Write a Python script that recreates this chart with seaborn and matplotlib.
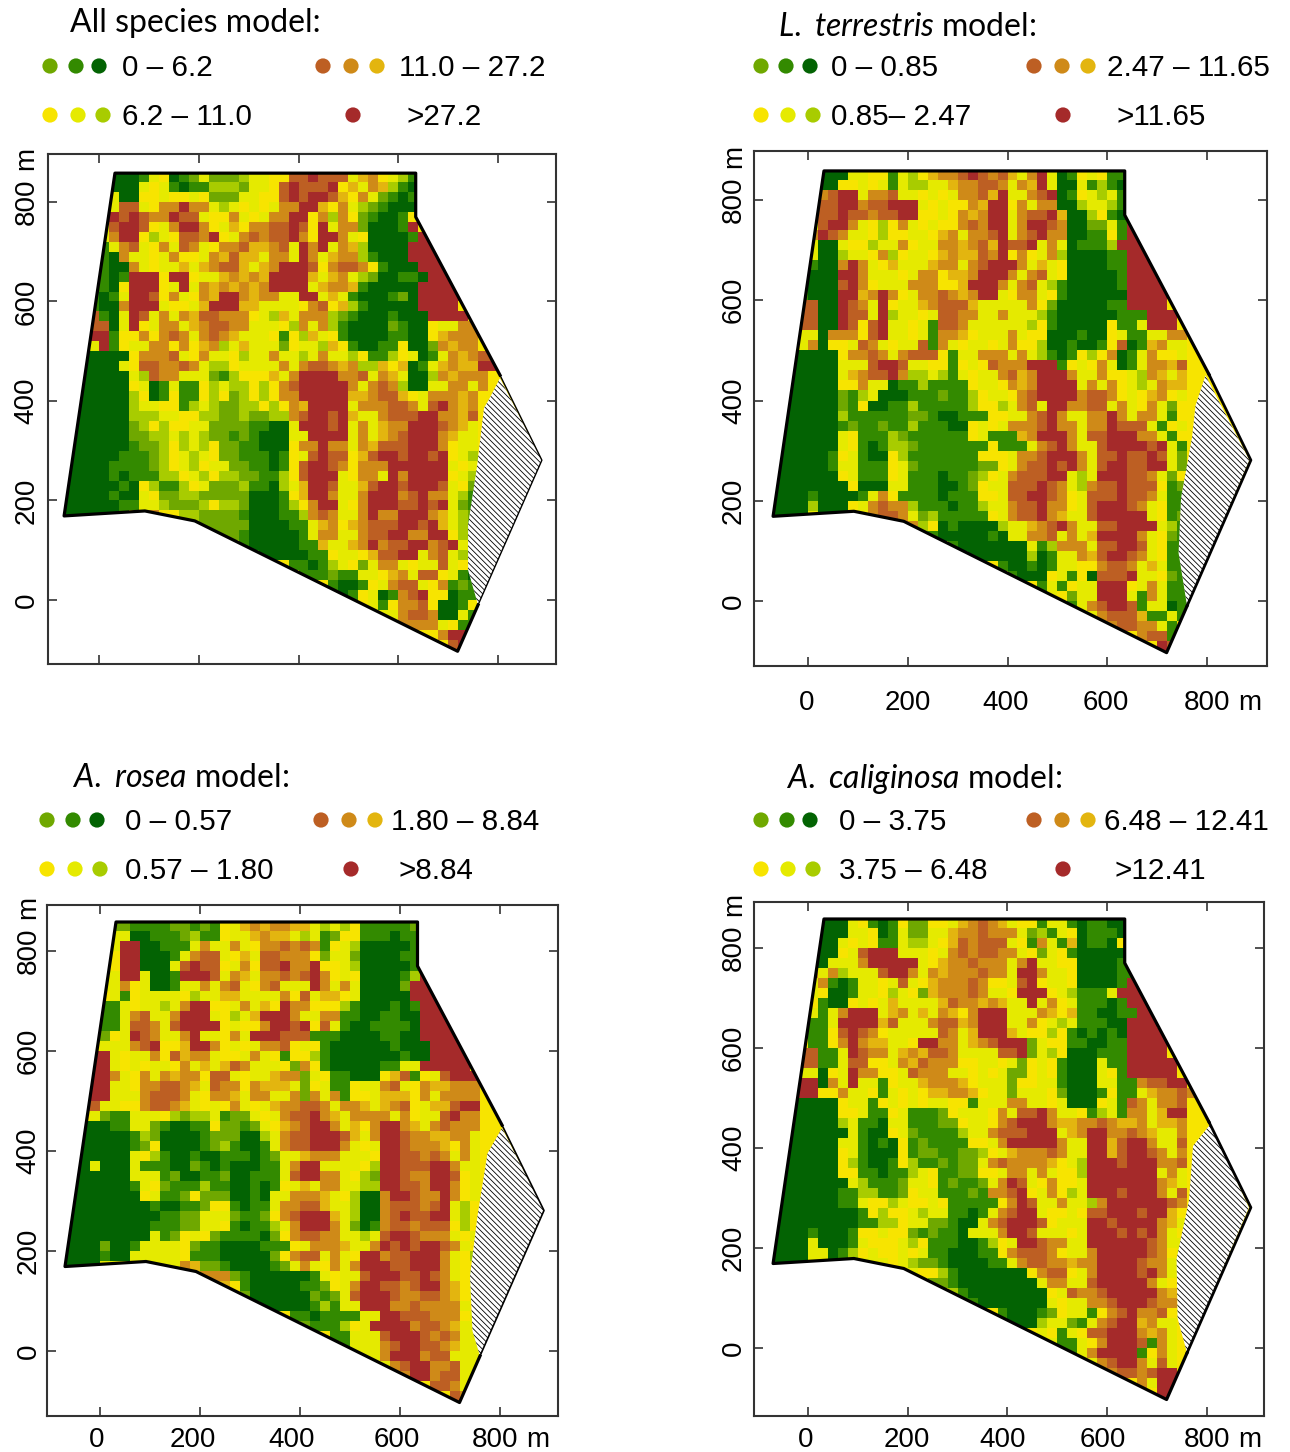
import numpy as np
import matplotlib
matplotlib.use('Agg')
import matplotlib.pyplot as plt
import seaborn as sns
from matplotlib.colors import ListedColormap
from matplotlib.patches import Polygon
from matplotlib.transforms import Affine2D, ScaledTranslation

W, H = 1290, 1452

# colour classes used in the maps
class_colors = ['#036303', '#338a00', '#6fa800', '#a8cc00', '#f7e400',
                '#e5ea00', '#e3b50f', '#cf8a18', '#bd5f23', '#a52a2a']

# values: class 0-9 per 20 m cell, rows from y=870 down, columns from x=-70
# blanks are cells outside the field
all_species = [
    "",
    "     0001540125222355448898885674531",
    "     0005451011333255489888946576310",
    "     5004454454222554489899864752101",
    "     5885477977535454577996475321000",
    "    59898779885447545779947374210014",
    "    58998457997456477889849577200019",
    "    5799435488794578788974997540000199",
    "    1578547587547786678597957630000999",
    "    10755457445768665775975677310" "009999",
    "    100754556567886567999847887410" "00999",
    "    101999499455676769999656753200" "110999",
    "   11049994595767676799995677610000099999",
    "   10159984754769976775599565100012099999",
    "   1007999544569996655554784631000009999",
    "   81059857576887774536577732100010009999",
    "   880594577567887755543757310000210045577",
    "   991447478757876555414365410000110046777",
    "   591455774746735655524553641001140027677",
    "  0000047778547554355755357553411345015767889",
    "  000054887787533455557578876733646015676699",
    "  0000053877555213444657999977857650037677" "7",
    "  00000450151143533434789999975787300557757",
    "  000003401411434234347799999667886457776" "7",
    "  000003554413532233434769999577788758976" "7",
    "  000003335544332232233789989655788899776" "8",
    " 0000002343445522221100599989575677999876" "5",
    " 0000002233535322121000559999575678999765" "5",
    " 0000001223435342211000477977576888999745" "5",
    " 0000011123453542211101458988468998998945" "3",
    " 0000111123453455221101489987477799999954" "5",
    " 0000101113345343322113489995477597999945" "3",
    " 0000010431134522231103569985568998999854" "2",
    "0000010054223322222000146997557999789775" "31",
    "0000001155322234332000134799547999889895" "21",
    "0000001457443322221000113787557977999765" "32",
    "            4322222000011567467888998" "96531",
    "            4452221000001577557889977" "99431",
    "                 3100000116556797889978953",
    "                 4410000011455468899578531",
    "                      41101354257754558541",
    "                      44111211554675884510",
    "                           100145788547121",
    "                           401450178944011",
    "                           444451477840014",
    "                                5578870051",
    "                                4477775411",
    "                                     47999",
    "                                     44899",
    "                                     44499",
]
terrestris = [
    "",
    "     0005544153467789878657950145411",
    "     0044545153355677887576950051310",
    "     7899577855454577869557890145351",
    "     8899788999545447699475770035531",
    "    588988788994454767995788960034109",
    "    5899754347545447879957998700225199",
    "    7987554344554675778957897700114199",
    "    5005443557455776786988957501113999",
    "    50035547345546766879474573000011999",
    "    10079754655567757899975654000011999",
    "    00099755545774667999757854000001999",
    "   1000897455577744699975785310000019999",
    "   1000996797457787679954775410000009999",
    "   8800987594556788865555574200000119999",
    "   88009885935545887755755531000000111999",
    "   88009848955451887555555341000004115999",
    "   550777489554517764555754400010045115577",
    "   570445875455817545545744300100148016755",
    "  0000047787578884155777575310143470157445",
    "  0000055589985544145487779991454750157768",
    "  0000056788973353154557867999755744537656",
    "  0000044755011311114554767999957574535766",
    "  0000021350001112113455478999978874546745",
    "  0000021400113111113443578599778857547524",
    "  0000031111112210011144557897557797577514",
    " 00000012112113111004545777897757798885145",
    " 00000054111321111114511167999758899977514",
    " 0000005410133211111114111578975589999895" "1",
    " 0000014510043111111144457789997588988985" "2",
    " 00000155111452111111224578898975899889952",
    " 00000045111451110112345788899535999887524",
    " 00000004000551110012455888987537889888412",
    "000010000157411110111445889987458889887511",
    "000030004578773111011355788977458999875411",
    "000050035478875231111145788976558999995412",
    "            777340100003556789755889999531",
    "            555210000010557785756999975421",
    "                 5100000005137775889985411",
    "                 4410000003015576899875411",
    "                      41001015544788756511",
    "                      44100045140888955421",
    "                           151455999457511",
    "                           454255999517511",
    "                           444157899815501",
    "                                5788861151",
    "                                4478877514",
    "                                     78815",
    "                                     44989",
    "                                     44499",
]
rosea = [
    "",
    "     2211112212145676776653534111112",
    "     5500111231145567665351244111011",
    "     5990011157557547787871453000001",
    "     4990001578854658877742552000011",
    "    549900058988457488977944530000019",
    "    5599500199985765778789745400001399",
    "    5574500155757854785559757500002999",
    "    4514555543556655557485664500000999",
    "    11545535799445756497744431000101999",
    "    11578557999543569997557711001100999",
    "    11588758999945447998948510011110999",
    "   4245987557955475999888111000011009999",
    "   45557894469974545778454100000010009999",
    "   995455748677544575414431000000010099999",
    "   99545455475656875554274100000115599999",
    "   997547576774885455677254110004681458999",
    "   995547788765877476665245114557854766777",
    "   995557888754776577557275714456664757777",
    "  8855447887654547545677887577656784566899",
    "  4521155543233512254578897657777574558977",
    "  0001155210011422125467899756479976578777",
    "  0000013200001222003578899986579987766775",
    "  0000012400001231001578899975459987776475",
    "  0000054310010011101255677755549988787575",
    " 00500051110021010001157995555439988899755",
    " 00000055512001120011158997754329987799845",
    " 00000015421113110010145657755339988799745",
    " 00000004511242220010557776543007998779745",
    " 00000000100112441011577886553007888789534",
    " 00000000011225552112478999653007898899534",
    " 00000000111225541011357999752017887888434",
    " 00000000512454211110247887755358998777545",
    "0000200155554211000011145777655798989987543",
    "000010055555411100000247885754997889997543",
    "000055545555762210000125754757999889997544",
    "            557772100000015455899988987543",
    "            555664100000112457998878997645",
    "                 4200000021258999877887645",
    "                 3410000013155999778777754",
    "                      41101111559988877745",
    "                      44211134599997887655",
    "                           115558999878755",
    "                           415557899887655",
    "                           444557999788555",
    "                                5789977855",
    "                                4479978855",
    "                                     88755",
    "                                     44875",
    "                                     44475",
]
caliginosa = [
    "",
    "     0005410142244567876544155101100",
    "     0005540152255677877752315401110",
    "     005454115335468788854175160110",
    "     0045899955545787887754254100000",
    "    505557999995467787775795544000015",
    "    7573555899757677787759975540000113",
    "    5710155458546777874458945540000199",
    "    5400155435426777875549994531115999",
    "    4100454565555687767655957451110199",
    "    51579995675657647999555764611001199",
    "    11599996855578867999557453511100999",
    "   4114898745555587569996544341010109999",
    "   4114797665549977567899925441100119999",
    "   8811598775676887555588925340001119999",
    "   88115884457687774455452454100051199999",
    "   55045977445877755454522454100054199999",
    "   990759551455677764555244551000551178899",
    "   994475541545466776455255542000141156778" "7",
    "  0000045514545455441555775545000451875778",
    "  0000044511451112455547588975541351775699",
    "  0000035110551112245547899976677876675667",
    "  0000005100452111135578889995679977876557",
    "  0000055101041211114457999997559968997558",
    "  0000045100041221122345677787559968998757",
    " 00000043100143112122578777764539998999778",
    " 00000044110113541122445775754439999999575",
    " 00000005311125541211257985474459999999765",
    " 00000011331124551112177894574359998999758",
    " 00000011544354454111114798557553799999987",
    " 00000000143445355110157899544548899989964",
    " 00000000113345522100578999845559989999765",
    " 00010001445442121105557998555459998989754",
    "000050001544453411100134599877559999998755",
    "000055013454454511000114788874557999998745",
    "000055034555453221000011578877677999987755",
    "            555443100000004788457999989754",
    "            755422100000000577558999997544",
    "                 4310000000045877899999764",
    "                 4411000000054557789998774",
    "                      41000124551478977845",
    "                      44000355215789967554",
    "                           541548899976754",
    "                           451154799981754",
    "                           444157999914754",
    "                                5789975854",
    "                                4478878994",
    "                                     75994",
    "                                     44995",
    "                                     44445",
]

# field outline in metres
thick_x = [760, 719, 192, 92, -70, 32, 635, 635, 804]
thick_y = [-10, -103, 159, 179, 169, 858, 858, 770, 452]
edge_x = [804, 888, 760]
edge_y = [452, 281, -10]

# unsampled part of the field
hatch_all = [(804, 446), (784, 407), (772, 386), (758, 269), (740, 151), (740, 60), (760, -10), (888, 281)]
hatch_ter = [(797, 450), (777, 390), (770, 326), (748, 206), (743, 96), (760, -10), (885, 281)]
hatch_ros = [(804, 446), (775, 395), (755, 270), (740, 150), (745, 40), (760, -10), (888, 281)]
hatch_cal = [(807, 448), (772, 404), (764, 296), (739, 178), (741, 60), (760, -10), (884, 281)]

x_ticks = [0, 200, 400, 600, 800]
y_ticks = [0, 200, 400, 600, 800]

titles = [r'All species model:',
          r'$\mathit{L.\ terrestris}$ model:',
          r'$\mathit{A.\ rosea}$ model:',
          r'$\mathit{A.\ caliginosa}$ model:']
low_labels = ['0 – 6.2', '0 – 0.85', '0 – 0.57', '0 – 3.75']
mid_labels = ['6.2 – 11.0', '0.85– 2.47', '0.57 – 1.80', '3.75 – 6.48']
high_labels = ['11.0 – 27.2', '2.47 – 11.65', '1.80 – 8.84', '6.48 – 12.41']
top_labels = ['>27.2', '>11.65', '>8.84', '>12.41']

plt.rcParams['font.family'] = ['Liberation Sans', 'DejaVu Sans']
plt.rcParams['mathtext.fontset'] = 'custom'
plt.rcParams['mathtext.rm'] = 'Lato'
plt.rcParams['mathtext.it'] = 'Lato:italic'
plt.rcParams['hatch.linewidth'] = 0.6

# layout in pixels of the picture
panels = [
    dict(rows=all_species, hatch=hatch_all, box=(48, 154, 556, 664), x0=99, x800=498, y0=600, y800=202,
         ypad=6, xpad=None, nudge=None, title=(70, 23), row_y=(68, 117), text_x=(122, 399, 407),
         dots=(50, 76, 99, 323, 351, 377, 50, 78, 103, 353), edge=1.0),
    dict(rows=terrestris, hatch=hatch_ter, box=(754, 151, 1267, 666), x0=808, x800=1207, y0=601, y800=200,
         ypad=5, xpad=17, nudge=(-1, 0, -2, -1, 0), title=(778, 27), row_y=(68, 117), text_x=(831, 1107, 1117),
         dots=(761, 786, 810, 1034, 1062, 1088, 761, 788, 813, 1063), edge=2.0),
    dict(rows=rosea, hatch=hatch_ros, box=(47, 905, 558, 1416), x0=100, x800=500, y0=1351, y800=951,
         ypad=4, xpad=8, nudge=(-3, -7, -8, -3, -5), title=(72, 778), row_y=(822, 871), text_x=(125, 391, 399),
         dots=(47, 73, 97, 321, 349, 375, 47, 75, 100, 351), edge=1.2),
    dict(rows=caliginosa, hatch=hatch_cal, box=(754, 902, 1264, 1416), x0=808, x800=1207, y0=1348, y800=948,
         ypad=5, xpad=8, nudge=(-2, -1, -5, -4, 0), title=(786, 779), row_y=(822, 871), text_x=(839, 1104, 1114),
         dots=(761, 787, 810, 1034, 1062, 1088, 761, 788, 813, 1063), edge=2.0),
]
dot_classes = [2, 1, 0, 8, 7, 6, 4, 5, 3, 9]

fig = plt.figure(figsize=(W / 100, H / 100), dpi=100)
overlay = fig.add_axes([0, 0, 1, 1], zorder=5)
overlay.set_xlim(0, W)
overlay.set_ylim(H, 0)
overlay.axis('off')

cmap = ListedColormap(class_colors)

for i, p in enumerate(panels):
    l, t, r, b = p['box']
    ax = fig.add_axes([l / W, 1 - b / H, (r - l) / W, (b - t) / H])
    grid = np.array([[float(c) for c in row.ljust(50).replace(' ', '4')[:50]] for row in p['rows']])
    sns.heatmap(grid, ax=ax, cmap=cmap, vmin=-0.5, vmax=9.5, cbar=False, xticklabels=False, yticklabels=False)
    mesh = ax.collections[0]

    sx = (p['x800'] - p['x0']) / 800
    sy = (p['y0'] - p['y800']) / 800
    ax.set_xlim((l - p['x0']) / sx, (r - p['x0']) / sx)
    ax.set_ylim((p['y0'] - b) / sy, (p['y0'] - t) / sy)

    # cells in metres, cut to the field outline
    mesh.set_transform(Affine2D().scale(20, -20).translate(-80, 880) + ax.transData)
    field = Polygon(list(zip(thick_x[1:] + edge_x[1:], thick_y[1:] + edge_y[1:])), transform=ax.transData)
    mesh.set_clip_path(field)

    ax.add_patch(Polygon(p['hatch'], facecolor='white', edgecolor='black', hatch='\\\\\\\\\\\\', lw=0, zorder=3))
    ax.plot(thick_x, thick_y, color='black', lw=2.3, zorder=4, solid_joinstyle='round')
    ax.plot(edge_x, edge_y, color='black', lw=p['edge'], zorder=4)

    for s in ax.spines.values():
        s.set_visible(True)
        s.set_color('#333333')
        s.set_linewidth(1.5)
    ax.set_xticks(x_ticks)
    ax.set_yticks(y_ticks)
    ax.set_yticklabels([str(v) for v in y_ticks], rotation=90, va='center', fontsize=20)
    ax.tick_params(direction='in', top=True, right=True, length=6.5, width=1.2, color='#333333')
    ax.tick_params(axis='y', pad=p['ypad'])
    ylab = ax.get_yticklabels()[-1]
    ax.annotate('m', xy=(0, 1), xycoords=ylab, xytext=(0, 6), textcoords='offset points',
                rotation=90, ha='left', va='bottom', fontsize=20)
    if p['xpad'] is None:
        ax.set_xticklabels([])
    else:
        ax.set_xticklabels([str(v) for v in x_ticks], fontsize=20)
        ax.tick_params(axis='x', pad=p['xpad'])
        for lab, dx in zip(ax.get_xticklabels(), p['nudge']):
            lab.set_transform(lab.get_transform() + ScaledTranslation(dx / 100, 0, fig.dpi_scale_trans))
        xlab = ax.get_xticklabels()[-1]
        ax.annotate('m', xy=(1, 0), xycoords=xlab, xytext=(6, 0), textcoords='offset points',
                    ha='left', va='bottom', fontsize=20)

    # title and legend
    overlay.text(p['title'][0], p['title'][1], titles[i], family='Lato', fontsize=23, va='center', ha='left')
    y1, y2 = p['row_y']
    tx_low, tx_high, tx_top = p['text_x']
    overlay.text(tx_low, y1, low_labels[i], fontsize=21.3, va='center')
    overlay.text(tx_low, y2, mid_labels[i], fontsize=21.3, va='center')
    overlay.text(tx_high, y1, high_labels[i], fontsize=21.3, va='center')
    overlay.text(tx_top, y2, top_labels[i], fontsize=21.3, va='center')
    dot_y = [y1 - 2] * 6 + [y2 - 2] * 4
    overlay.scatter(p['dots'], dot_y, s=120, c=[class_colors[k] for k in dot_classes], linewidths=0)

fig.savefig('out.png', dpi=100)
